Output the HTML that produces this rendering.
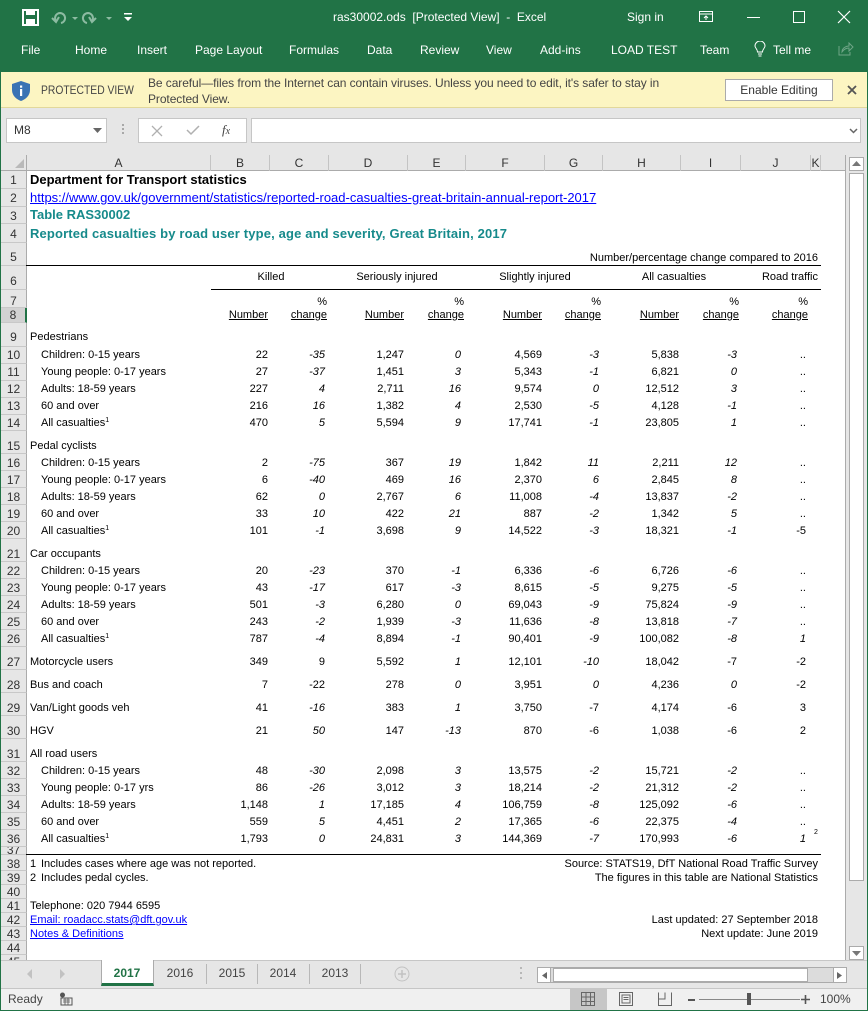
<!DOCTYPE html>
<html><head><meta charset="utf-8">
<style>
*{box-sizing:border-box}
body{margin:0;width:868px;height:1011px;position:relative;overflow:hidden;background:#fff;font-family:"Liberation Sans",Arial,sans-serif;color:#000}
.a{position:absolute;white-space:nowrap}
.w12{color:#fff;font-size:12px;line-height:14px}
.row{position:absolute;left:0;width:868px;height:14px;font-size:11px;line-height:14px}
.row span{position:absolute;top:0;white-space:nowrap}
.l1{left:30px}.l2{left:41px}
.b{right:600px}.c{right:543px}.d{right:464px}.e{right:407px}.f{right:326px}.g{right:269px}.h{right:189px}.k{right:131px}.j{right:62px}
.hc{right:541px}.he{right:404px}.hg{right:267px}.hi{right:129px}.hj{right:60px}.rr{right:50px}
.i{font-style:italic}
.u{text-decoration:underline}
sup{font-size:7px;line-height:0;vertical-align:4px}
.ch{position:absolute;top:155px;height:16px;border-right:1px solid #C4C4C4;text-align:center;font-size:12px;line-height:16px;color:#333}
.rh{position:absolute;left:1px;width:26px;border-bottom:1px solid #C8C8C8;border-right:1px solid #ABABAB;text-align:center;font-size:12px;color:#333;overflow:hidden;background:#E6E6E6}
.tab{position:absolute;top:966px;font-size:12px;line-height:14px;color:#444;text-align:center;width:52px}
.sep{position:absolute;top:964px;width:1px;height:20px;background:#B8B8B8}
</style></head><body>

<!-- Title bar + ribbon -->
<div class="a" style="left:0;top:0;width:868px;height:72px;background:#217346"></div>
<svg class="a" style="left:22px;top:9px" width="17" height="17" viewBox="0 0 17 17"><rect x="1" y="1" width="15" height="15" fill="none" stroke="#fff" stroke-width="2"/><rect x="4" y="1" width="9" height="5" fill="#fff"/><rect x="4" y="10" width="9" height="6" fill="#fff"/></svg>
<svg class="a" style="left:50px;top:9px" width="70" height="17" viewBox="0 0 70 17"><path d="M6 12 A5 5 0 1 1 11 14" fill="none" stroke="#8DBBA2" stroke-width="2"/><path d="M2 9 L6 13 L9 8" fill="none" stroke="#8DBBA2" stroke-width="2"/><path d="M22 8 l3 3 l3 -3z" fill="#8DBBA2"/><path d="M42 12 A5 5 0 1 0 37 14" fill="none" stroke="#8DBBA2" stroke-width="2"/><path d="M46 9 L42 13 L39 8" fill="none" stroke="#8DBBA2" stroke-width="2"/><path d="M56 8 l3 3 l3 -3z" fill="#8DBBA2"/></svg>
<svg class="a" style="left:123px;top:12px" width="10" height="10" viewBox="0 0 10 10"><rect x="1" y="1" width="8" height="1.5" fill="#fff"/><path d="M1 5 L9 5 L5 9z" fill="#fff"/></svg>
<div class="a w12" style="left:333px;top:10px">ras30002.ods&nbsp; [Protected View]&nbsp; -&nbsp; Excel</div>
<div class="a w12" style="left:627px;top:10px">Sign in</div>
<svg class="a" style="left:698px;top:10px" width="16" height="14" viewBox="0 0 16 14"><rect x="1.5" y="1.5" width="13" height="10" fill="none" stroke="#fff"/><line x1="1.5" y1="4" x2="14.5" y2="4" stroke="#fff"/><path d="M8 10 V6 M6 8 L8 6 L10 8" stroke="#fff" fill="none"/></svg>
<div class="a" style="left:747px;top:17px;width:13px;height:1px;background:#fff"></div>
<div class="a" style="left:793px;top:11px;width:12px;height:12px;border:1px solid #fff"></div>
<svg class="a" style="left:837px;top:10px" width="14" height="14" viewBox="0 0 14 14"><path d="M1 1 L13 13 M13 1 L1 13" stroke="#fff" stroke-width="1.2"/></svg>

<div class="a w12" style="left:21px;top:43px">File</div>
<div class="a w12" style="left:75px;top:43px">Home</div>
<div class="a w12" style="left:137px;top:43px">Insert</div>
<div class="a w12" style="left:195px;top:43px">Page Layout</div>
<div class="a w12" style="left:289px;top:43px">Formulas</div>
<div class="a w12" style="left:367px;top:43px">Data</div>
<div class="a w12" style="left:420px;top:43px">Review</div>
<div class="a w12" style="left:486px;top:43px">View</div>
<div class="a w12" style="left:540px;top:43px">Add-ins</div>
<div class="a w12" style="left:611px;top:43px">LOAD TEST</div>
<div class="a w12" style="left:700px;top:43px">Team</div>
<svg class="a" style="left:754px;top:41px" width="12" height="17" viewBox="0 0 12 17"><path d="M3.5 11 C3.5 8 1 7 1 5 A5 5 0 0 1 11 5 C11 7 8.5 8 8.5 11 Z" fill="none" stroke="#fff"/><line x1="4" y1="13" x2="8" y2="13" stroke="#fff"/><line x1="4.5" y1="15" x2="7.5" y2="15" stroke="#fff"/></svg>
<div class="a w12" style="left:773px;top:43px">Tell me</div>
<svg class="a" style="left:838px;top:42px" width="16" height="14" viewBox="0 0 16 14"><path d="M1 4 V13 H12 V10" fill="none" stroke="#6FA587"/><path d="M4 10 C4 6 8 4 11 4 V1 L15 5 L11 9 V6 C8 6 6 7 4 10z" fill="none" stroke="#6FA587"/></svg>

<!-- Protected view bar -->
<div class="a" style="left:1px;top:72px;width:866px;height:36px;background:#FCF5C2;border-bottom:1px solid #E2D89B"></div>
<svg class="a" style="left:11px;top:80px" width="20" height="22" viewBox="0 0 20 22"><path d="M10 1 L19 4 V10 C19 16 14 19.5 10 21 C6 19.5 1 16 1 10 V4 Z" fill="#3A73B4"/><rect x="9" y="9" width="2.2" height="7" fill="#fff"/><rect x="9" y="5.5" width="2.2" height="2.2" fill="#fff"/></svg>
<div class="a" style="left:41px;top:83px;font-size:12px;line-height:14px;color:#444;transform:scaleX(0.86);transform-origin:0 0">PROTECTED VIEW</div>
<div class="a" style="left:148px;top:75px;font-size:12px;line-height:16px;color:#444;letter-spacing:-0.08px">Be careful—files from the Internet can contain viruses. Unless you need to edit, it's safer to stay in<br>Protected View.</div>
<div class="a" style="left:725px;top:79px;width:108px;height:22px;background:#fff;border:1px solid #ABABAB;font-size:12px;line-height:20px;text-align:center;color:#333">Enable Editing</div>
<svg class="a" style="left:847px;top:85px" width="10" height="10" viewBox="0 0 10 10"><path d="M1 1 L9 9 M9 1 L1 9" stroke="#555" stroke-width="1.8"/></svg>

<!-- Formula bar -->
<div class="a" style="left:1px;top:108px;width:866px;height:47px;background:#E6E6E6"></div>
<div class="a" style="left:6px;top:118px;width:101px;height:25px;background:#fff;border:1px solid #C6C6C6;font-size:12px;line-height:23px;padding-left:7px;color:#333">M8</div>
<svg class="a" style="left:93px;top:128px" width="9" height="5" viewBox="0 0 9 5"><path d="M0 0 H9 L4.5 5z" fill="#666"/></svg>
<div class="a" style="left:122px;top:124px;width:2px;height:2px;background:#A8A8A8;box-shadow:0 4px 0 #A8A8A8,0 8px 0 #A8A8A8"></div>
<div class="a" style="left:138px;top:118px;width:109px;height:25px;background:#fff;border:1px solid #C6C6C6"></div>
<svg class="a" style="left:151px;top:125px" width="12" height="12" viewBox="0 0 12 12"><path d="M1 1 L11 11 M11 1 L1 11" stroke="#B0B0B0" stroke-width="1.3"/></svg>
<svg class="a" style="left:186px;top:124px" width="14" height="12" viewBox="0 0 14 12"><path d="M1 6 L5 10 L13 2" fill="none" stroke="#B0B0B0" stroke-width="1.5"/></svg>
<div class="a" style="left:222px;top:123px;font-family:'Liberation Serif',serif;font-style:italic;font-size:13px;line-height:14px;color:#444">f<span style="font-size:10px">x</span></div>
<div class="a" style="left:251px;top:118px;width:610px;height:25px;background:#fff;border:1px solid #C6C6C6"></div>
<svg class="a" style="left:849px;top:128px" width="9" height="6" viewBox="0 0 9 6"><path d="M1 1 L4.5 4.5 L8 1" fill="none" stroke="#666" stroke-width="1.5"/></svg>

<!-- Column headers -->
<div class="a" style="left:1px;top:155px;width:845px;height:16px;background:#E6E6E6;border-bottom:1px solid #ABABAB"></div>
<svg class="a" style="left:14px;top:158px" width="11" height="11" viewBox="0 0 11 11"><path d="M10 1 V10 H1 Z" fill="#B9B9B9"/></svg>
<div class="a" style="left:26px;top:155px;width:1px;height:16px;background:#ABABAB"></div>
<div class="ch" style="left:27px;width:184px">A</div>
<div class="ch" style="left:211px;width:59px">B</div>
<div class="ch" style="left:270px;width:59px">C</div>
<div class="ch" style="left:329px;width:79px">D</div>
<div class="ch" style="left:408px;width:58px">E</div>
<div class="ch" style="left:466px;width:79px">F</div>
<div class="ch" style="left:545px;width:58px">G</div>
<div class="ch" style="left:603px;width:78px">H</div>
<div class="ch" style="left:681px;width:60px">I</div>
<div class="ch" style="left:741px;width:70px">J</div>
<div class="ch" style="left:811px;width:10px">K</div>

<!-- Row headers -->
<div class="rh" style="top:171px;height:18px;line-height:18px">1</div>
<div class="rh" style="top:189px;height:18px;line-height:18px">2</div>
<div class="rh" style="top:207px;height:17px;line-height:18px">3</div>
<div class="rh" style="top:224px;height:19px;line-height:20px">4</div>
<div class="rh" style="top:243px;height:23px;line-height:28px">5</div>
<div class="rh" style="top:266px;height:24px;line-height:30px">6</div>
<div class="rh" style="top:290px;height:18px;line-height:22px">7</div>
<div class="rh" style="top:308px;height:15px;line-height:14px;background:#D2D2D2;border-right:2px solid #217346">8</div>
<div class="rh" style="top:323px;height:24px;line-height:28px">9</div>
<div class="rh" style="top:347px;height:17px;line-height:16px">10</div>
<div class="rh" style="top:364px;height:17px;line-height:16px">11</div>
<div class="rh" style="top:381px;height:17px;line-height:16px">12</div>
<div class="rh" style="top:398px;height:17px;line-height:16px">13</div>
<div class="rh" style="top:415px;height:16px;line-height:16px">14</div>
<div class="rh" style="top:431px;height:23px;line-height:30px">15</div>
<div class="rh" style="top:454px;height:17px;line-height:18px">16</div>
<div class="rh" style="top:471px;height:17px;line-height:18px">17</div>
<div class="rh" style="top:488px;height:17px;line-height:18px">18</div>
<div class="rh" style="top:505px;height:17px;line-height:18px">19</div>
<div class="rh" style="top:522px;height:17px;line-height:18px">20</div>
<div class="rh" style="top:539px;height:23px;line-height:30px">21</div>
<div class="rh" style="top:562px;height:17px;line-height:18px">22</div>
<div class="rh" style="top:579px;height:17px;line-height:18px">23</div>
<div class="rh" style="top:596px;height:17px;line-height:18px">24</div>
<div class="rh" style="top:613px;height:17px;line-height:18px">25</div>
<div class="rh" style="top:630px;height:17px;line-height:18px">26</div>
<div class="rh" style="top:647px;height:23px;line-height:30px">27</div>
<div class="rh" style="top:670px;height:23px;line-height:30px">28</div>
<div class="rh" style="top:693px;height:23px;line-height:30px">29</div>
<div class="rh" style="top:716px;height:23px;line-height:30px">30</div>
<div class="rh" style="top:739px;height:23px;line-height:30px">31</div>
<div class="rh" style="top:762px;height:17px;line-height:18px">32</div>
<div class="rh" style="top:779px;height:17px;line-height:18px">33</div>
<div class="rh" style="top:796px;height:17px;line-height:18px">34</div>
<div class="rh" style="top:813px;height:17px;line-height:18px">35</div>
<div class="rh" style="top:830px;height:17px;line-height:18px">36</div>
<div class="rh" style="top:847px;height:8px;line-height:6px">37</div>
<div class="rh" style="top:855px;height:16px;line-height:18px">38</div>
<div class="rh" style="top:871px;height:14px;line-height:14px">39</div>
<div class="rh" style="top:885px;height:14px;line-height:14px">40</div>
<div class="rh" style="top:899px;height:14px;line-height:14px">41</div>
<div class="rh" style="top:913px;height:14px;line-height:14px">42</div>
<div class="rh" style="top:927px;height:14px;line-height:14px">43</div>
<div class="rh" style="top:941px;height:14px;line-height:14px">44</div>
<div class="rh" style="top:955px;height:5px;line-height:14px;border-bottom:none">45</div>

<!-- Title cells -->
<div class="a" style="left:30px;top:172px;font-weight:bold;font-size:13px;line-height:16px">Department for Transport statistics</div>
<div class="a" style="left:30px;top:190px;font-size:13px;line-height:15px;color:#0000FF;text-decoration:underline">https://www.gov.uk/government/statistics/reported-road-casualties-great-britain-annual-report-2017</div>
<div class="a" style="left:30px;top:207px;font-weight:bold;font-size:13px;line-height:16px;color:#168A8B">Table RAS30002</div>
<div class="a" style="left:30px;top:226px;font-weight:bold;font-size:13px;line-height:16px;color:#168A8B;letter-spacing:0.15px">Reported casualties by road user type, age and severity, Great Britain, 2017</div>

<div class="row" style="top:251px"><span class="rr">Number/percentage change compared to 2016</span></div>
<div class="a" style="left:26px;top:265px;width:795px;height:1px;background:#000"></div>
<div class="row" style="top:270px"><span style="left:221px;width:100px;text-align:center">Killed</span><span style="left:337px;width:120px;text-align:center">Seriously injured</span><span style="left:475px;width:120px;text-align:center">Slightly injured</span><span style="left:614px;width:120px;text-align:center">All casualties</span><span class="rr">Road traffic</span></div>
<div class="a" style="left:211px;top:289px;width:610px;height:1px;background:#000"></div>
<div class="row" style="top:295px"><span class="hc">%</span><span class="he">%</span><span class="hg">%</span><span class="hi">%</span><span class="hj">%</span></div>
<div class="row" style="top:308px"><span class="b u">Number</span><span class="hc u">change</span><span class="d u">Number</span><span class="he u">change</span><span class="f u">Number</span><span class="hg u">change</span><span class="h u">Number</span><span class="hi u">change</span><span class="hj u">change</span></div>

<!-- Pedestrians -->
<div class="row" style="top:330px"><span class="l1">Pedestrians</span></div>
<div class="row" style="top:348px"><span class="l2">Children: 0-15 years</span><span class="b">22</span><span class="c i">-35</span><span class="d">1,247</span><span class="e i">0</span><span class="f">4,569</span><span class="g i">-3</span><span class="h">5,838</span><span class="k i">-3</span><span class="j">..</span></div>
<div class="row" style="top:365px"><span class="l2">Young people: 0-17 years</span><span class="b">27</span><span class="c i">-37</span><span class="d">1,451</span><span class="e i">3</span><span class="f">5,343</span><span class="g i">-1</span><span class="h">6,821</span><span class="k i">0</span><span class="j">..</span></div>
<div class="row" style="top:382px"><span class="l2">Adults: 18-59 years</span><span class="b">227</span><span class="c i">4</span><span class="d">2,711</span><span class="e i">16</span><span class="f">9,574</span><span class="g i">0</span><span class="h">12,512</span><span class="k i">3</span><span class="j">..</span></div>
<div class="row" style="top:399px"><span class="l2">60 and over</span><span class="b">216</span><span class="c i">16</span><span class="d">1,382</span><span class="e i">4</span><span class="f">2,530</span><span class="g i">-5</span><span class="h">4,128</span><span class="k i">-1</span><span class="j">..</span></div>
<div class="row" style="top:416px"><span class="l2">All casualties<sup>1</sup></span><span class="b">470</span><span class="c i">5</span><span class="d">5,594</span><span class="e i">9</span><span class="f">17,741</span><span class="g i">-1</span><span class="h">23,805</span><span class="k i">1</span><span class="j">..</span></div>

<!-- Pedal cyclists -->
<div class="row" style="top:439px"><span class="l1">Pedal cyclists</span></div>
<div class="row" style="top:456px"><span class="l2">Children: 0-15 years</span><span class="b">2</span><span class="c i">-75</span><span class="d">367</span><span class="e i">19</span><span class="f">1,842</span><span class="g i">11</span><span class="h">2,211</span><span class="k i">12</span><span class="j">..</span></div>
<div class="row" style="top:473px"><span class="l2">Young people: 0-17 years</span><span class="b">6</span><span class="c i">-40</span><span class="d">469</span><span class="e i">16</span><span class="f">2,370</span><span class="g i">6</span><span class="h">2,845</span><span class="k i">8</span><span class="j">..</span></div>
<div class="row" style="top:490px"><span class="l2">Adults: 18-59 years</span><span class="b">62</span><span class="c i">0</span><span class="d">2,767</span><span class="e i">6</span><span class="f">11,008</span><span class="g i">-4</span><span class="h">13,837</span><span class="k i">-2</span><span class="j">..</span></div>
<div class="row" style="top:507px"><span class="l2">60 and over</span><span class="b">33</span><span class="c i">10</span><span class="d">422</span><span class="e i">21</span><span class="f">887</span><span class="g i">-2</span><span class="h">1,342</span><span class="k i">5</span><span class="j">..</span></div>
<div class="row" style="top:524px"><span class="l2">All casualties<sup>1</sup></span><span class="b">101</span><span class="c i">-1</span><span class="d">3,698</span><span class="e i">9</span><span class="f">14,522</span><span class="g i">-3</span><span class="h">18,321</span><span class="k i">-1</span><span class="j">-5</span></div>

<!-- Car occupants -->
<div class="row" style="top:547px"><span class="l1">Car occupants</span></div>
<div class="row" style="top:564px"><span class="l2">Children: 0-15 years</span><span class="b">20</span><span class="c i">-23</span><span class="d">370</span><span class="e i">-1</span><span class="f">6,336</span><span class="g i">-6</span><span class="h">6,726</span><span class="k i">-6</span><span class="j">..</span></div>
<div class="row" style="top:581px"><span class="l2">Young people: 0-17 years</span><span class="b">43</span><span class="c i">-17</span><span class="d">617</span><span class="e i">-3</span><span class="f">8,615</span><span class="g i">-5</span><span class="h">9,275</span><span class="k i">-5</span><span class="j">..</span></div>
<div class="row" style="top:598px"><span class="l2">Adults: 18-59 years</span><span class="b">501</span><span class="c i">-3</span><span class="d">6,280</span><span class="e i">0</span><span class="f">69,043</span><span class="g i">-9</span><span class="h">75,824</span><span class="k i">-9</span><span class="j">..</span></div>
<div class="row" style="top:615px"><span class="l2">60 and over</span><span class="b">243</span><span class="c i">-2</span><span class="d">1,939</span><span class="e i">-3</span><span class="f">11,636</span><span class="g i">-8</span><span class="h">13,818</span><span class="k i">-7</span><span class="j">..</span></div>
<div class="row" style="top:632px"><span class="l2">All casualties<sup>1</sup></span><span class="b">787</span><span class="c i">-4</span><span class="d">8,894</span><span class="e i">-1</span><span class="f">90,401</span><span class="g i">-9</span><span class="h">100,082</span><span class="k i">-8</span><span class="j i">1</span></div>

<!-- Other modes -->
<div class="row" style="top:655px"><span class="l1">Motorcycle users</span><span class="b">349</span><span class="c">9</span><span class="d">5,592</span><span class="e i">1</span><span class="f">12,101</span><span class="g i">-10</span><span class="h">18,042</span><span class="k">-7</span><span class="j">-2</span></div>
<div class="row" style="top:678px"><span class="l1">Bus and coach</span><span class="b">7</span><span class="c">-22</span><span class="d">278</span><span class="e i">0</span><span class="f">3,951</span><span class="g i">0</span><span class="h">4,236</span><span class="k i">0</span><span class="j">-2</span></div>
<div class="row" style="top:701px"><span class="l1">Van/Light goods veh</span><span class="b">41</span><span class="c i">-16</span><span class="d">383</span><span class="e i">1</span><span class="f">3,750</span><span class="g">-7</span><span class="h">4,174</span><span class="k">-6</span><span class="j">3</span></div>
<div class="row" style="top:724px"><span class="l1">HGV</span><span class="b">21</span><span class="c i">50</span><span class="d">147</span><span class="e i">-13</span><span class="f">870</span><span class="g">-6</span><span class="h">1,038</span><span class="k">-6</span><span class="j">2</span></div>

<!-- All road users -->
<div class="row" style="top:747px"><span class="l1">All road users</span></div>
<div class="row" style="top:764px"><span class="l2">Children: 0-15 years</span><span class="b">48</span><span class="c i">-30</span><span class="d">2,098</span><span class="e i">3</span><span class="f">13,575</span><span class="g i">-2</span><span class="h">15,721</span><span class="k i">-2</span><span class="j">..</span></div>
<div class="row" style="top:781px"><span class="l2">Young people: 0-17 yrs</span><span class="b">86</span><span class="c i">-26</span><span class="d">3,012</span><span class="e i">3</span><span class="f">18,214</span><span class="g i">-2</span><span class="h">21,312</span><span class="k i">-2</span><span class="j">..</span></div>
<div class="row" style="top:798px"><span class="l2">Adults: 18-59 years</span><span class="b">1,148</span><span class="c i">1</span><span class="d">17,185</span><span class="e i">4</span><span class="f">106,759</span><span class="g i">-8</span><span class="h">125,092</span><span class="k i">-6</span><span class="j">..</span></div>
<div class="row" style="top:815px"><span class="l2">60 and over</span><span class="b">559</span><span class="c i">5</span><span class="d">4,451</span><span class="e i">2</span><span class="f">17,365</span><span class="g i">-6</span><span class="h">22,375</span><span class="k i">-4</span><span class="j">..</span></div>
<div class="row" style="top:832px"><span class="l2">All casualties<sup>1</sup></span><span class="b">1,793</span><span class="c i">0</span><span class="d">24,831</span><span class="e i">3</span><span class="f">144,369</span><span class="g i">-7</span><span class="h">170,993</span><span class="k i">-6</span><span class="j i">1</span><span style="left:814px;top:-3px;font-size:7px;line-height:8px">2</span></div>
<div class="a" style="left:26px;top:854px;width:795px;height:1px;background:#000"></div>

<!-- Footnotes -->
<div class="row" style="top:857px"><span class="l1">1</span><span class="l2">Includes cases where age was not reported.</span><span class="rr">Source: STATS19, DfT National Road Traffic Survey</span></div>
<div class="row" style="top:871px"><span class="l1">2</span><span class="l2">Includes pedal cycles.</span><span class="rr">The figures in this table are National Statistics</span></div>
<div class="row" style="top:899px"><span class="l1">Telephone: 020 7944 6595</span></div>
<div class="row" style="top:913px"><span class="l1" style="color:#0000FF;text-decoration:underline">Email: roadacc.stats@dft.gov.uk</span><span class="rr">Last updated: 27 September 2018</span></div>
<div class="row" style="top:927px"><span class="l1" style="color:#0000FF;text-decoration:underline">Notes &amp; Definitions</span><span class="rr">Next update: June 2019</span></div>

<!-- Vertical scrollbar -->
<div class="a" style="left:845px;top:155px;width:22px;height:805px;background:#E6E6E6;border-left:1px solid #ABABAB"></div>
<div class="a" style="left:849px;top:157px;width:15px;height:14px;background:#fff;border:1px solid #ABABAB"></div>
<svg class="a" style="left:852px;top:161px" width="9" height="5" viewBox="0 0 9 5"><path d="M0 5 L4.5 0 L9 5z" fill="#777"/></svg>
<div class="a" style="left:849px;top:173px;width:15px;height:708px;background:#fff;border:1px solid #ABABAB"></div>
<div class="a" style="left:849px;top:946px;width:15px;height:14px;background:#fff;border:1px solid #ABABAB"></div>
<svg class="a" style="left:852px;top:951px" width="9" height="5" viewBox="0 0 9 5"><path d="M0 0 L4.5 5 L9 0z" fill="#777"/></svg>

<!-- Sheet tabs bar -->
<div class="a" style="left:1px;top:960px;width:866px;height:29px;background:#E6E6E6;border-top:1px solid #C6C6C6;border-bottom:1px solid #C6C6C6"></div>
<svg class="a" style="left:27px;top:969px" width="40" height="10" viewBox="0 0 40 10"><path d="M5 0 L0 5 L5 10z" fill="#C2C2C2"/><path d="M33 0 L38 5 L33 10z" fill="#C2C2C2"/></svg>
<div class="a" style="left:101px;top:960px;width:53px;height:26px;background:#fff;border-left:1px solid #ABABAB;border-right:1px solid #ABABAB;border-bottom:3px solid #217346"></div>
<div class="tab" style="left:101px;font-weight:bold;color:#217346">2017</div>
<div class="tab" style="left:154px">2016</div>
<div class="sep" style="left:206px"></div>
<div class="tab" style="left:206px">2015</div>
<div class="sep" style="left:257px"></div>
<div class="tab" style="left:257px">2014</div>
<div class="sep" style="left:309px"></div>
<div class="tab" style="left:309px">2013</div>
<div class="sep" style="left:360px"></div>
<svg class="a" style="left:394px;top:966px" width="16" height="16" viewBox="0 0 16 16"><circle cx="8" cy="8" r="7" fill="none" stroke="#C2C2C2"/><path d="M8 4 V12 M4 8 H12" stroke="#C2C2C2" stroke-width="1.5"/></svg>
<div class="a" style="left:520px;top:967px;width:2px;height:2px;background:#B8B8B8;box-shadow:0 5px 0 #B8B8B8,0 10px 0 #B8B8B8"></div>
<div class="a" style="left:537px;top:967px;width:310px;height:16px;background:#DCDCDC;border:1px solid #ABABAB"></div>
<div class="a" style="left:538px;top:968px;width:13px;height:14px;background:#fff;border-right:1px solid #ABABAB"></div>
<svg class="a" style="left:542px;top:972px" width="5" height="7" viewBox="0 0 5 7"><path d="M5 0 L0 3.5 L5 7z" fill="#666"/></svg>
<div class="a" style="left:553px;top:968px;width:255px;height:14px;background:#fff;border:1px solid #ABABAB"></div>
<div class="a" style="left:833px;top:968px;width:13px;height:14px;background:#fff;border-left:1px solid #ABABAB"></div>
<svg class="a" style="left:837px;top:972px" width="5" height="7" viewBox="0 0 5 7"><path d="M0 0 L5 3.5 L0 7z" fill="#666"/></svg>

<!-- Status bar -->
<div class="a" style="left:1px;top:989px;width:866px;height:21px;background:#F0F0F0"></div>
<div class="a" style="left:8px;top:992px;font-size:12px;line-height:14px;color:#444">Ready</div>
<svg class="a" style="left:59px;top:992px" width="14" height="14" viewBox="0 0 14 14"><circle cx="3.5" cy="3" r="2.5" fill="#555"/><rect x="2" y="6" width="11" height="7" fill="none" stroke="#555"/><path d="M4 8 H11 M4 10 H11 M6 6 V13 M9 6 V13" stroke="#555" stroke-width="0.8"/></svg>
<div class="a" style="left:570px;top:989px;width:37px;height:21px;background:#C6C6C6"></div>
<svg class="a" style="left:581px;top:992px" width="14" height="14" viewBox="0 0 14 14"><rect x="0.5" y="0.5" width="13" height="13" fill="none" stroke="#666"/><path d="M0.5 5 H13.5 M0.5 9.5 H13.5 M5 0.5 V13.5 M9.5 0.5 V13.5" stroke="#666"/></svg>
<svg class="a" style="left:619px;top:992px" width="14" height="14" viewBox="0 0 14 14"><rect x="0.5" y="0.5" width="13" height="13" fill="none" stroke="#666"/><rect x="3" y="3" width="8" height="8" fill="none" stroke="#666"/><path d="M4.5 5.5 H9.5 M4.5 7.5 H9.5" stroke="#666"/></svg>
<svg class="a" style="left:658px;top:992px" width="14" height="14" viewBox="0 0 14 14"><path d="M0.5 0.5 V13.5 H13.5 V0.5 M7 0.5 V7 H0.5" fill="none" stroke="#666"/></svg>
<div class="a" style="left:688px;top:999px;width:7px;height:2px;background:#555"></div>
<div class="a" style="left:699px;top:999px;width:101px;height:1px;background:#888"></div>
<div class="a" style="left:747px;top:993px;width:4px;height:12px;background:#555"></div>
<svg class="a" style="left:801px;top:995px" width="9" height="9" viewBox="0 0 9 9"><path d="M4.5 0 V9 M0 4.5 H9" stroke="#555" stroke-width="1.6"/></svg>
<div class="a" style="left:820px;top:992px;font-size:12px;line-height:14px;color:#444">100%</div>

<!-- Window borders -->
<div class="a" style="left:0;top:0;width:1px;height:1011px;background:#217346"></div>
<div class="a" style="left:867px;top:0;width:1px;height:1011px;background:#217346"></div>
<div class="a" style="left:0;top:1010px;width:868px;height:1px;background:#217346"></div>
</body></html>
